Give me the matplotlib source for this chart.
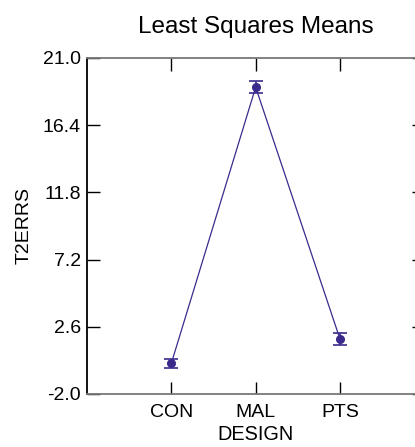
#!/usr/bin/env python3

import matplotlib.pyplot as plt

plt.rcParams["font.family"] = ["Liberation Sans", "DejaVu Sans"]

design = ["CON", "MAL", "PTS"]
lsmeans = [0.1, 19.0, 1.75]
std_err = [0.32, 0.4, 0.42]
y_ticks = [-2.0, 2.6, 7.2, 11.8, 16.4, 21.0]

purple = "#3b2a8c"

fig = plt.figure(figsize=(4.15, 4.47), dpi=100)
ax = fig.add_axes([0.2096, 0.1186, 0.813, 0.7517])

xs = list(range(len(design)))
ax.plot(xs, lsmeans, "-", color=purple, linewidth=0.9)
ax.errorbar(
    xs,
    lsmeans,
    yerr=std_err,
    fmt="o",
    color=purple,
    markersize=5.5,
    capsize=5,
    elinewidth=1.2,
    capthick=1.2,
)

ax.set_xlim(-1, 3)
ax.set_ylim(-2.0, 21.0)
ax.set_xticks(xs)
ax.set_xticklabels(design)
ax.set_yticks(y_ticks)
ax.set_yticklabels([f"{v:.1f}" for v in y_ticks])

ax.tick_params(axis="both", direction="in", length=9, width=1, labelsize=14, colors="black")
ax.tick_params(axis="x", top=True, pad=7)
ax.tick_params(axis="y", right=True, pad=4.5)

ax.spines["left"].set_color("black")
ax.spines["bottom"].set_color("#777777")
ax.spines["top"].set_color("#777777")
ax.spines["right"].set_color("black")
for side in ["left", "bottom", "top", "right"]:
    ax.spines[side].set_linewidth(1.3)

ax.set_xlabel("DESIGN", fontsize=14.3, labelpad=3)
ax.set_ylabel("T2ERRS", fontsize=14, labelpad=7)
ax.set_title("Least Squares Means", fontsize=17.5, pad=18, x=0.5)

fig.savefig("out.png", dpi=100)
